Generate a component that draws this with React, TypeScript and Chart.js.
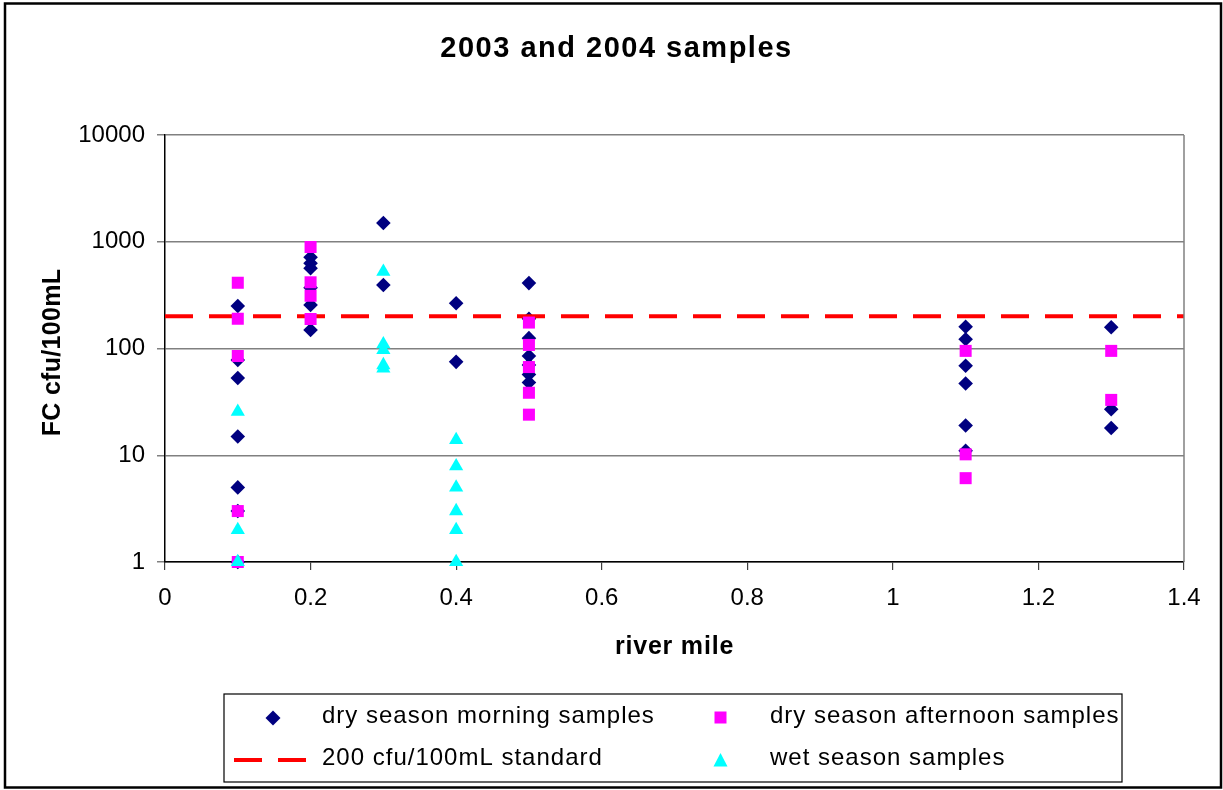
import React, { useEffect, useRef } from "react";
import { Chart, registerables } from "chart.js";

Chart.register(...registerables);

const FONT = '"Liberation Sans", Arial, Helvetica, sans-serif';

const chartTitle = "2003 and 2004 samples";
const xAxisTitle = "river mile";
const yAxisTitle = "FC cfu/100mL";
const seriesNames = [
  "dry season morning samples",
  "dry season afternoon samples",
  "200 cfu/100mL standard",
  "wet season samples",
];

const xTicks = [0, 0.2, 0.4, 0.6, 0.8, 1, 1.2, 1.4];
const yTicks = [1, 10, 100, 1000, 10000];

// dry season morning samples (diamonds)
const morningMiles = [
  0.1, 0.1, 0.1, 0.1, 0.1, 0.1, 0.1,
  0.2, 0.2, 0.2, 0.2, 0.2, 0.2,
  0.3, 0.3,
  0.4, 0.4,
  0.5, 0.5, 0.5, 0.5, 0.5, 0.5, 0.5,
  1.1, 1.1, 1.1, 1.1, 1.1, 1.1,
  1.3, 1.3, 1.3,
];
const morningFC = [
  250, 78, 53, 15, 5, 3, 1,
  715, 628, 564, 370, 256, 149,
  1500, 393,
  265, 75,
  410, 190, 125, 85, 70, 57, 48,
  160, 122, 69, 47, 19, 11,
  158, 27, 18,
];

// dry season afternoon samples (squares)
const afternoonMiles = [
  0.1, 0.1, 0.1, 0.1, 0.1,
  0.2, 0.2, 0.2, 0.2,
  0.5, 0.5, 0.5, 0.5, 0.5,
  1.1, 1.1, 1.1,
  1.3, 1.3,
];
const afternoonFC = [
  413, 190, 85, 3, 1,
  893, 417, 312, 189,
  175, 108, 67, 38.5, 24,
  95, 10.2, 6.1,
  95, 33,
];

// 200 cfu/100mL standard
const standardMiles = [0, 1.4];
const standardFC = [200, 200];

// wet season samples (triangles)
const wetMiles = [
  0.1, 0.1, 0.1,
  0.3, 0.3, 0.3, 0.3, 0.3,
  0.4, 0.4, 0.4, 0.4, 0.4, 0.4,
];
const wetFC = [
  25.6, 2, 1,
  525, 110, 97, 70, 65,
  13.9, 7.9, 5, 3, 2, 1,
];

const toPoints = (xs: number[], ys: number[]) => xs.map((x, i) => ({ x, y: ys[i] }));

const NAVY = "#000080";
const MAGENTA = "#FF00FF";
const CYAN = "#00FFFF";
const RED = "#FF0000";

const decorPlugin = {
  id: "decor",
  afterDraw(chart: any) {
    const ctx: CanvasRenderingContext2D = chart.ctx;
    const { left, right, top, bottom } = chart.chartArea;
    ctx.save();

    // plot area right edge
    ctx.strokeStyle = "#808080";
    ctx.lineWidth = 1.5;
    ctx.beginPath();
    ctx.moveTo(right, top);
    ctx.lineTo(right, bottom);
    ctx.stroke();

    // outer frame
    ctx.strokeStyle = "#000";
    ctx.lineWidth = 2.5;
    ctx.strokeRect(5, 3.5, 1216, 784);

    ctx.fillStyle = "#000";
    ctx.textBaseline = "alphabetic";

    // chart title
    ctx.font = `bold 29px ${FONT}`;
    (ctx as any).letterSpacing = "1.5px";
    ctx.textAlign = "center";
    ctx.fillText(chartTitle, (left + right) / 2 - 58, 57);

    // x axis title
    ctx.font = `bold 25px ${FONT}`;
    (ctx as any).letterSpacing = "0.8px";
    ctx.fillText(xAxisTitle, (left + right) / 2, 654);

    // y axis title
    ctx.save();
    ctx.translate(59.5, (top + bottom) / 2 + 4);
    ctx.rotate(-Math.PI / 2);
    (ctx as any).letterSpacing = "0.3px";
    ctx.fillText(yAxisTitle, 0, 0);
    ctx.restore();

    // legend box
    ctx.strokeStyle = "#000";
    ctx.lineWidth = 1.2;
    ctx.strokeRect(224, 694, 898, 88);

    // legend markers
    // diamond
    ctx.fillStyle = NAVY;
    ctx.beginPath();
    ctx.moveTo(273, 710.5);
    ctx.lineTo(280.5, 718);
    ctx.lineTo(273, 725.5);
    ctx.lineTo(265.5, 718);
    ctx.closePath();
    ctx.fill();
    // dashed line
    ctx.strokeStyle = RED;
    ctx.lineWidth = 4;
    ctx.beginPath();
    ctx.moveTo(234, 760);
    ctx.lineTo(262, 760);
    ctx.moveTo(278, 760);
    ctx.lineTo(306, 760);
    ctx.stroke();
    // square
    ctx.fillStyle = MAGENTA;
    ctx.fillRect(714.5, 711.5, 12, 12);
    // triangle
    ctx.fillStyle = CYAN;
    ctx.beginPath();
    ctx.moveTo(720.5, 753);
    ctx.lineTo(727.5, 766.5);
    ctx.lineTo(713.5, 766.5);
    ctx.closePath();
    ctx.fill();

    // legend texts
    ctx.fillStyle = "#000";
    ctx.font = `24px ${FONT}`;
    (ctx as any).letterSpacing = "1px";
    ctx.textAlign = "left";
    ctx.fillText(seriesNames[0], 322, 723);
    ctx.fillText(seriesNames[1], 770, 723);
    ctx.fillText(seriesNames[2], 322, 765);
    ctx.fillText(seriesNames[3], 770, 765);

    ctx.restore();
  },
};

const fmtX = (v: number) => String(Number(Number(v).toFixed(1)));

export default function App() {
  const ref = useRef<HTMLCanvasElement>(null);

  useEffect(() => {
    document.body.style.margin = "0";
    const canvas = ref.current;
    if (!canvas) return;
    const chart = new Chart(canvas, {
      type: "scatter",
      data: {
        datasets: [
          {
            label: seriesNames[3],
            data: toPoints(wetMiles, wetFC),
            pointStyle: "triangle",
            pointRadius: 8.2,
            pointBackgroundColor: CYAN,
            pointBorderWidth: 0,
            borderWidth: 0,
            order: 0,
            clip: false,
          },
          {
            label: seriesNames[1],
            data: toPoints(afternoonMiles, afternoonFC),
            pointStyle: "rect",
            pointRadius: 8.5,
            pointBackgroundColor: MAGENTA,
            pointBorderWidth: 0,
            borderWidth: 0,
            order: 1,
            clip: false,
          },
          {
            label: seriesNames[2],
            data: toPoints(standardMiles, standardFC),
            showLine: true,
            borderColor: RED,
            borderWidth: 4,
            borderDash: [28, 16],
            pointRadius: 0,
            order: 2,
            clip: false,
          },
          {
            label: seriesNames[0],
            data: toPoints(morningMiles, morningFC),
            pointStyle: "rectRot",
            pointRadius: 7.3,
            pointBackgroundColor: NAVY,
            pointBorderWidth: 0,
            borderWidth: 0,
            order: 3,
            clip: false,
          },
        ],
      } as any,
      options: {
        responsive: false,
        animation: false,
        devicePixelRatio: 1,
        layout: { padding: { left: 0, top: 135, right: 39, bottom: 168 } },
        plugins: {
          legend: { display: false },
          tooltip: { enabled: false },
          title: { display: false },
        },
        scales: {
          x: {
            type: "linear",
            min: 0,
            max: 1.4,
            afterBuildTicks: (s: any) => {
              s.ticks = xTicks.map((v) => ({ value: v }));
            },
            afterFit: (s: any) => {
              s.height = 60;
            },
            grid: {
              drawOnChartArea: false,
              drawTicks: true,
              tickLength: 8,
              color: "#404040",
              lineWidth: 1.2,
            },
            border: { display: true, color: "#000", width: 1.5 },
            ticks: {
              font: { family: FONT, size: 24 },
              color: "#000",
              padding: 14,
              maxRotation: 0,
              autoSkip: false,
              callback: (v: any) => fmtX(v),
            },
          },
          y: {
            type: "logarithmic",
            min: 1,
            max: 10000,
            afterBuildTicks: (s: any) => {
              s.ticks = yTicks.map((v) => ({ value: v }));
            },
            afterFit: (s: any) => {
              s.width = 165;
            },
            grid: {
              color: "#808080",
              lineWidth: 1.5,
              drawTicks: true,
              tickLength: 8,
            },
            border: { display: true, color: "#000", width: 1.5 },
            ticks: {
              font: { family: FONT, size: 24 },
              color: "#000",
              padding: 12,
              autoSkip: false,
              callback: (v: any) => String(v),
            },
          },
        },
      } as any,
      plugins: [decorPlugin],
    });
    return () => chart.destroy();
  }, []);

  return (
    <div style={{ width: 1223, height: 790, background: "#fff" }}>
      <canvas ref={ref} width={1223} height={790} style={{ display: "block", width: 1223, height: 790 }} />
    </div>
  );
}
